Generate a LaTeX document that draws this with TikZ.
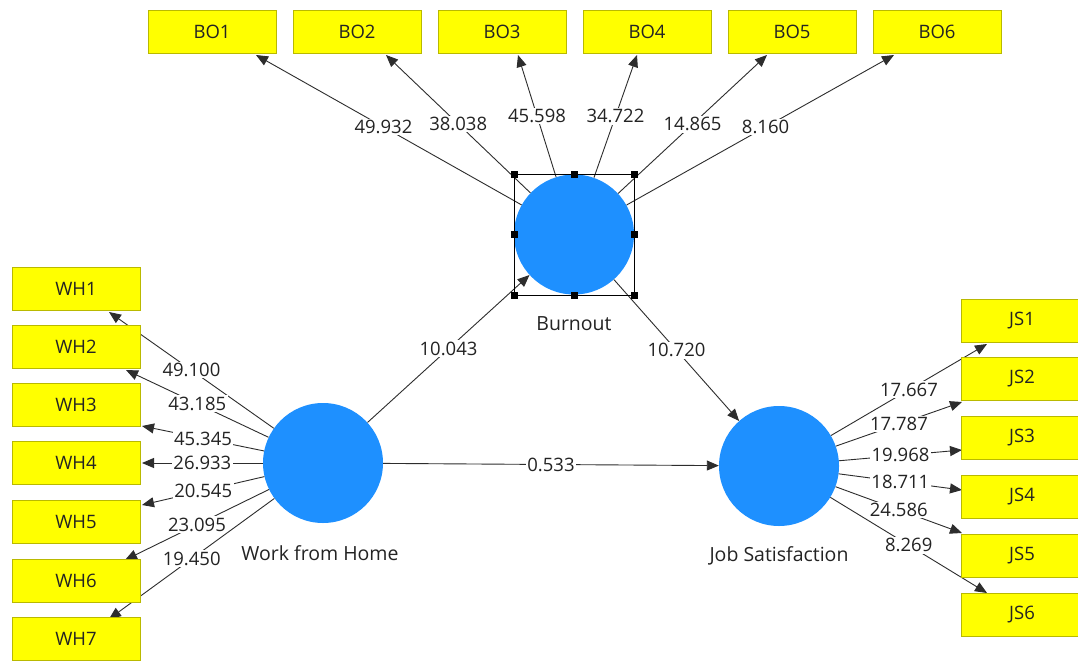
\documentclass[tikz,border=0pt]{standalone}
\usepackage{fontspec}
\setmainfont{Open Sans}
\usetikzlibrary{arrows.meta}
\definecolor{lvblue}{RGB}{30,144,255}
\definecolor{indfill}{RGB}{255,255,0}
\definecolor{indedge}{RGB}{185,185,0}
\definecolor{lnc}{RGB}{45,45,45}
\definecolor{txc}{RGB}{35,35,35}
\begin{document}
\begin{tikzpicture}[x=1pt,y=-1pt,
  ind/.style={rectangle,fill=indfill,draw=indedge,line width=0.8pt,minimum width=128pt,minimum height=43pt,inner sep=0pt,font=\fontsize{18.5}{21}\selectfont,text=txc},
  lv/.style={circle,fill=lvblue,minimum size=120pt,inner sep=0pt},
  lvname/.style={font=\fontsize{19.5}{22}\selectfont,text=txc,inner sep=0pt},
  conn/.style={draw=lnc,line width=0.9pt,-{Triangle[length=12pt,width=10pt]}},
  val/.style={fill=white,inner sep=1.5pt,font=\fontsize{18.5}{21}\selectfont,text=txc}]
\useasboundingbox (0,0) rectangle (1078,661);
\fill[white] (0,0) rectangle (1078,661);
% latent variables
\node[lv] (bo) at (574,234.5) {};
\node[lv] (wfh) at (323,463) {};
\node[lv] (js) at (779,466) {};
\node[lvname] (boname) at (574,324) {Burnout};
\node[lvname] (wfhname) at (320,553) {Work from Home};
\node[lvname] (jsname) at (779,556) {Job Satisfaction};
% arrow tips on indicator boxes
\coordinate (tBO1) at (256,55);
\coordinate (tBO2) at (386,55);
\coordinate (tBO3) at (518,55);
\coordinate (tBO4) at (637,55);
\coordinate (tBO5) at (767,55);
\coordinate (tBO6) at (894,55);
\coordinate (tWH1) at (109,312);
\coordinate (tWH2) at (126,370);
\coordinate (tWH3) at (142,426);
\coordinate (tWH4) at (142,463);
\coordinate (tWH5) at (142,505);
\coordinate (tWH6) at (125,560);
\coordinate (tWH7) at (109,619);
\coordinate (tJS1) at (987,344);
\coordinate (tJS2) at (962,402);
\coordinate (tJS3) at (962,450);
\coordinate (tJS4) at (962,490);
\coordinate (tJS5) at (962,533);
\coordinate (tJS6) at (987,593);
% outer loadings: burnout
\draw[conn] (bo) -- (tBO1) node[val,pos=0.52] (v1) {49.932};
\draw[conn] (bo) -- (tBO2) node[val,midway] (v2) {38.038};
\draw[conn] (bo) -- (tBO3) node[val,midway] (v3) {45.598};
\draw[conn] (bo) -- (tBO4) node[val,midway] (v4) {34.722};
\draw[conn] (bo) -- (tBO5) node[val,midway] (v5) {14.865};
\draw[conn] (bo) -- (tBO6) node[val,pos=0.52] (v6) {8.160};
% outer loadings: work from home
\draw[conn] (wfh) -- (tWH1) node[val,midway] (w1) {49.100};
\draw[conn] (wfh) -- (tWH2) node[val,midway] (w2) {43.185};
\draw[conn] (wfh) -- (tWH3) node[val,midway] (w3) {45.345};
\draw[conn] (wfh) -- (tWH4) node[val,midway] (w4) {26.933};
\draw[conn] (wfh) -- (tWH5) node[val,midway] (w5) {20.545};
\draw[conn] (wfh) -- (tWH6) node[val,midway] (w6) {23.095};
\draw[conn] (wfh) -- (tWH7) node[val,midway] (w7) {19.450};
% outer loadings: job satisfaction
\draw[conn] (js) -- (tJS1) node[val,midway] (j1) {17.667};
\draw[conn] (js) -- (tJS2) node[val,midway] (j2) {17.787};
\draw[conn] (js) -- (tJS3) node[val,midway] (j3) {19.968};
\draw[conn] (js) -- (tJS4) node[val,midway] (j4) {18.711};
\draw[conn] (js) -- (tJS5) node[val,midway] (j5) {24.586};
\draw[conn] (js) -- (tJS6) node[val,midway] (j6) {8.269};
% inner paths
\draw[conn] (wfh) -- (bo) node[val,midway] (p1) {10.043};
\draw[conn] (bo) -- (js) node[val,midway] (p2) {10.720};
\draw[conn] (wfh) -- (js) node[val,midway] (p3) {0.533};
% selection frame round burnout
\draw[black,line width=0.9pt] (514,174) rectangle (634,295);
\foreach \hx/\hy in {514/174,574/174,634/174,514/234.5,634/234.5,514/295,574/295,634/295}
  \fill[black] (\hx-3.5,\hy-3.5) rectangle (\hx+3.5,\hy+3.5);
% indicator boxes
\node[ind] (BO1) at (212,31.5) {BO1};
\node[ind] (BO2) at (357,31.5) {BO2};
\node[ind] (BO3) at (502,31.5) {BO3};
\node[ind] (BO4) at (647,31.5) {BO4};
\node[ind] (BO5) at (792,31.5) {BO5};
\node[ind] (BO6) at (937,31.5) {BO6};
\node[ind] (WH1) at (76,289) {WH1};
\node[ind] (WH2) at (76,347) {WH2};
\node[ind] (WH3) at (76,405) {WH3};
\node[ind] (WH4) at (76,463) {WH4};
\node[ind] (WH5) at (76,522) {WH5};
\node[ind] (WH6) at (76,581) {WH6};
\node[ind] (WH7) at (76,639) {WH7};
\node[ind] (JS1) at (1025,321) {\hspace*{-6pt}JS1};
\node[ind] (JS2) at (1025,379) {\hspace*{-6pt}JS2};
\node[ind] (JS3) at (1025,438) {\hspace*{-6pt}JS3};
\node[ind] (JS4) at (1025,497) {\hspace*{-6pt}JS4};
\node[ind] (JS5) at (1025,556) {\hspace*{-6pt}JS5};
\node[ind] (JS6) at (1025,615) {\hspace*{-6pt}JS6};
\end{tikzpicture}
\end{document}
